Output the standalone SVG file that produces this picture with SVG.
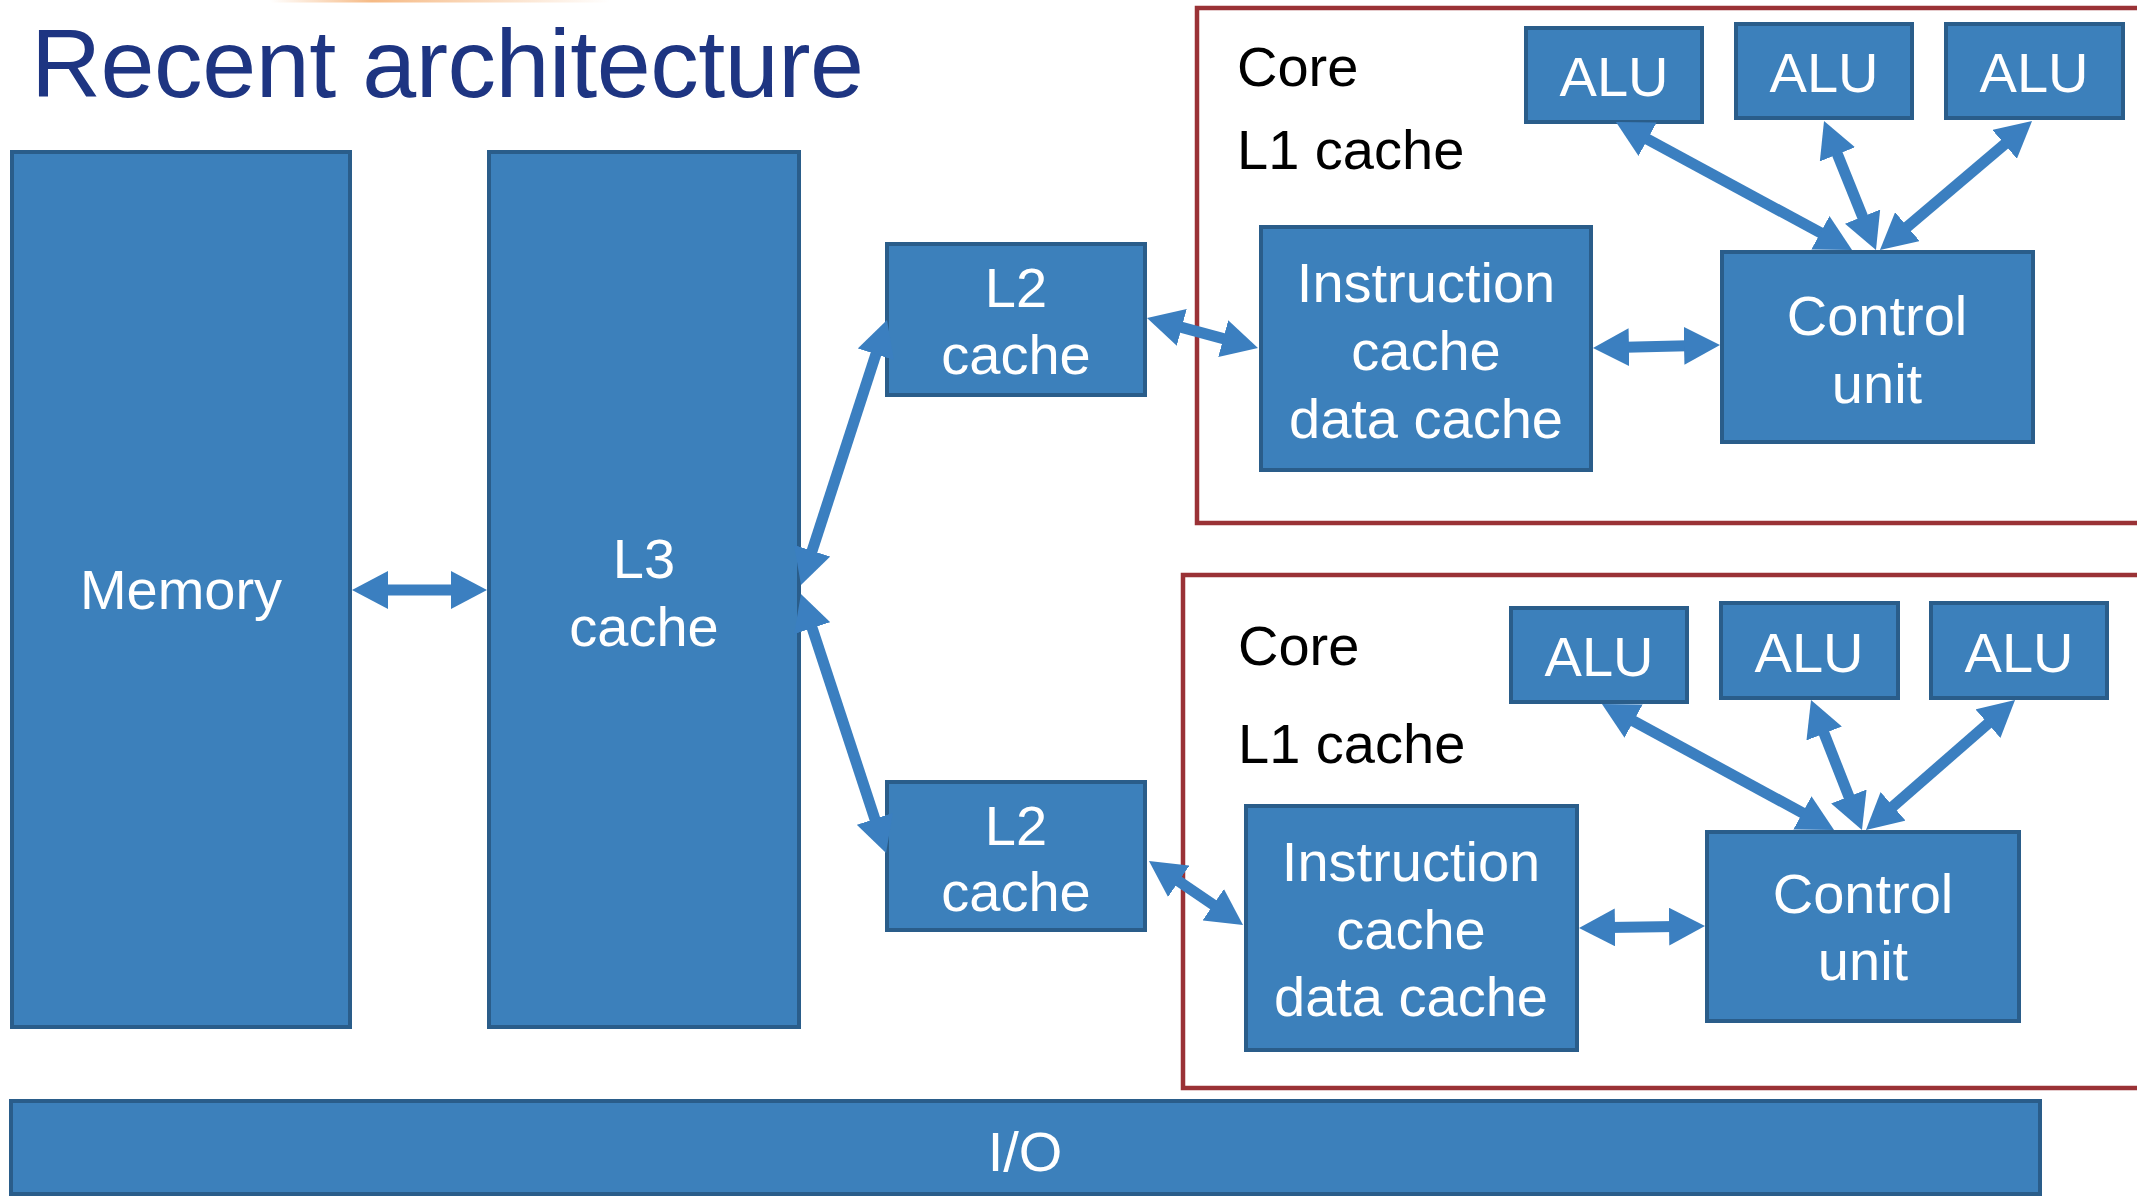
<svg xmlns="http://www.w3.org/2000/svg" width="2137" height="1197" viewBox="0 0 2137 1197">
  <defs>
    <style>
      .box { fill: #3C80BB; stroke: #2A5D8A; stroke-width: 4; }
      .core { fill: none; stroke: #9A3236; stroke-width: 4.5; }
      .lbl { font-family: "Liberation Sans", Arial, sans-serif; font-size: 56px; fill: #FFFFFF; text-anchor: middle; }
      .dark { font-family: "Liberation Sans", Arial, sans-serif; font-size: 56px; fill: #000000; }
      .title { font-family: "Liberation Sans", Arial, sans-serif; font-size: 97px; fill: #1E3582; }
      .link { stroke: #3B7FC0; stroke-width: 11; fill: none; marker-start: url(#head); marker-end: url(#head); }
    </style>
    <!-- arrowhead; tip sits 12px beyond the line end so the shaft stays hidden -->
    <marker id="head" markerUnits="userSpaceOnUse" markerWidth="36" markerHeight="38" viewBox="0 0 36 38" refX="24" refY="19" orient="auto-start-reverse">
      <path d="M0,0 L36,19 L0,38 z" fill="#3B7FC0"/>
    </marker>
    <linearGradient id="swoosh" x1="0" y1="0" x2="1" y2="0">
      <stop offset="0" stop-color="#F3A35C" stop-opacity="0"/>
      <stop offset="0.3" stop-color="#F3A35C" stop-opacity="0.75"/>
      <stop offset="1" stop-color="#F3A35C" stop-opacity="0"/>
    </linearGradient>
  </defs>

  <rect x="0" y="0" width="2137" height="1197" fill="#FFFFFF"/>
  <rect x="270" y="0" width="340" height="2.5" fill="url(#swoosh)"/>

  <text class="title" x="31" y="97" textLength="833">Recent architecture</text>

  <!-- core outlines -->
  <rect id="core-top" class="core" x="1197" y="8" width="960" height="515"/>
  <rect id="core-bottom" class="core" x="1183" y="575" width="970" height="513"/>
  <text class="dark" x="1237" y="86">Core</text>
  <text class="dark" x="1237" y="169">L1 cache</text>
  <text class="dark" x="1238" y="665">Core</text>
  <text class="dark" x="1238" y="763">L1 cache</text>

  <g id="memory">
    <rect class="box" x="12" y="152" width="338" height="875"/>
    <text class="lbl" x="181" y="609">Memory</text>
  </g>
  <g id="l3">
    <rect class="box" x="489" y="152" width="310" height="875"/>
    <text class="lbl" x="644" y="578">L3</text>
    <text class="lbl" x="644" y="646">cache</text>
  </g>
  <g id="l2-top">
    <rect class="box" x="887" y="244" width="258" height="151"/>
    <text class="lbl" x="1016" y="307">L2</text>
    <text class="lbl" x="1016" y="374">cache</text>
  </g>
  <g id="l2-bottom">
    <rect class="box" x="887" y="782" width="258" height="148"/>
    <text class="lbl" x="1016" y="845">L2</text>
    <text class="lbl" x="1016" y="911">cache</text>
  </g>
  <g id="io">
    <rect class="box" x="11" y="1101" width="2029" height="93"/>
    <text class="lbl" x="1025" y="1171">I/O</text>
  </g>

  <!-- upper core -->
  <g id="l1-top">
    <rect class="box" x="1261" y="227" width="330" height="243"/>
    <text class="lbl" x="1426" y="302">Instruction</text>
    <text class="lbl" x="1426" y="370">cache</text>
    <text class="lbl" x="1426" y="438">data cache</text>
  </g>
  <g id="cu-top">
    <rect class="box" x="1722" y="252" width="311" height="190"/>
    <text class="lbl" x="1877" y="335">Control</text>
    <text class="lbl" x="1877" y="403">unit</text>
  </g>
  <g id="alu-top-1">
    <rect class="box" x="1526" y="28" width="176" height="94"/>
    <text class="lbl" x="1614" y="96">ALU</text>
  </g>
  <g id="alu-top-2">
    <rect class="box" x="1736" y="24" width="176" height="94"/>
    <text class="lbl" x="1824" y="92">ALU</text>
  </g>
  <g id="alu-top-3">
    <rect class="box" x="1946" y="24" width="177" height="94"/>
    <text class="lbl" x="2034" y="92">ALU</text>
  </g>

  <!-- lower core -->
  <g id="l1-bottom">
    <rect class="box" x="1246" y="806" width="331" height="244"/>
    <text class="lbl" x="1411" y="881">Instruction</text>
    <text class="lbl" x="1411" y="949">cache</text>
    <text class="lbl" x="1411" y="1016">data cache</text>
  </g>
  <g id="cu-bottom">
    <rect class="box" x="1707" y="832" width="312" height="189"/>
    <text class="lbl" x="1863" y="913">Control</text>
    <text class="lbl" x="1863" y="980">unit</text>
  </g>
  <g id="alu-bottom-1">
    <rect class="box" x="1511" y="608" width="176" height="94"/>
    <text class="lbl" x="1599" y="676">ALU</text>
  </g>
  <g id="alu-bottom-2">
    <rect class="box" x="1721" y="603" width="177" height="95"/>
    <text class="lbl" x="1809" y="672">ALU</text>
  </g>
  <g id="alu-bottom-3">
    <rect class="box" x="1931" y="603" width="176" height="95"/>
    <text class="lbl" x="2019" y="672">ALU</text>
  </g>

  <!-- connectors (all bidirectional) -->
  <g id="connectors">
    <line class="link" x1="364" y1="590" x2="475" y2="590"/>
    <line class="link" x1="804.7" y1="573.6" x2="883.3" y2="331.4"/>
    <line class="link" x1="804.7" y1="605.4" x2="882.3" y2="841.6"/>
    <line class="link" x1="1158.6" y1="321.1" x2="1246.4" y2="344.9"/>
    <line class="link" x1="1158.9" y1="867.8" x2="1233.1" y2="918.2"/>
    <line class="link" x1="1605" y1="347.7" x2="1708" y2="345.3"/>
    <line class="link" x1="1591" y1="927.8" x2="1693" y2="926.2"/>
    <line class="link" x1="1626.5" y1="127.8" x2="1841.5" y2="244.2"/>
    <line class="link" x1="1828.5" y1="132.1" x2="1871.5" y2="238.9"/>
    <line class="link" x1="2022.9" y1="128.8" x2="1889.1" y2="242.2"/>
    <line class="link" x1="1612.5" y1="709.7" x2="1823.5" y2="824.3"/>
    <line class="link" x1="1815.4" y1="711.2" x2="1857.6" y2="818.8"/>
    <line class="link" x1="2006" y1="707.9" x2="1875" y2="822.1"/>
  </g>
</svg>
